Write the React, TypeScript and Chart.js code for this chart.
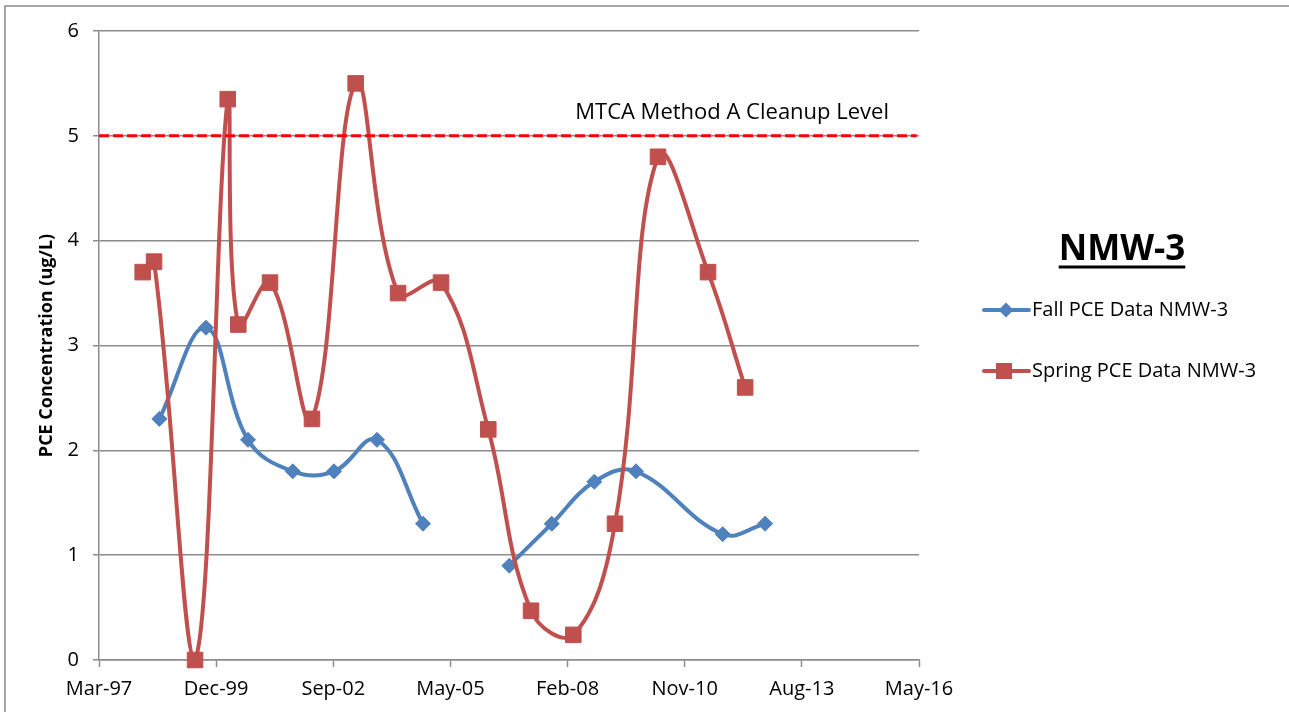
import React, { useEffect, useRef } from 'react';
import { Chart, registerables } from 'chart.js';

Chart.register(...registerables);

// ---- data ----
const xTickLabels = ['Mar-97', 'Dec-99', 'Sep-02', 'May-05', 'Feb-08', 'Nov-10', 'Aug-13', 'May-16'];
const xAxisStart = '1997-03-11';
const xTickStepDays = 1000;
const yMin = 0;
const yMax = 6;

const fallDates = [
  '1998-08-08', '1999-09-10', '2000-09-03', '2001-09-20', '2002-09-07', '2003-09-09', '2004-10-06',
  '2005-09-15', '2006-10-13', '2007-10-10', '2008-10-07', '2009-09-28', '2011-10-08', '2012-10-04',
];
const fallValues: (number | null)[] = [2.3, 3.17, 2.1, 1.8, 1.8, 2.1, 1.3, null, 0.9, 1.3, 1.7, 1.8, 1.2, 1.3];

const springDates = [
  '1998-03-19', '1998-06-24', '1999-06-09', '2000-03-14', '2000-06-12', '2001-03-10', '2002-03-03',
  '2003-03-11', '2004-03-07', '2005-03-09', '2006-04-16', '2007-04-16', '2008-04-11', '2009-04-02',
  '2010-04-04', '2011-06-05', '2012-04-17',
];
const springValues = [3.7, 3.8, 0, 5.35, 3.2, 3.6, 2.3, 5.5, 3.5, 3.6, 2.2, 0.47, 0.24, 1.3, 4.8, 3.7, 2.6];

const cleanupDates = ['1997-03-11', '2016-04-20'];
const cleanupLevel = 5;

const fallLabel = 'Fall PCE Data NMW-3';
const springLabel = 'Spring PCE Data NMW-3';
const cleanupLabel = 'MTCA Method A Cleanup Level';
const legendTitle = 'NMW-3';
const yTitle = 'PCE Concentration (ug/L)';

// ---- helpers ----
const toSerial = (s: string) => {
  const [y, m, d] = s.split('-').map(Number);
  return Math.round((Date.UTC(y, m - 1, d) - Date.UTC(1899, 11, 30)) / 86400000);
};

const FONT = "'Open Sans', sans-serif";
const BLUE = '#4F81BD';
const RED = '#C0504D';
const GRID = '#8c8c8c';

const decorPlugin = {
  id: 'decor',
  beforeDraw(chart: any) {
    const ctx = chart.ctx;
    ctx.save();
    ctx.fillStyle = '#ffffff';
    ctx.fillRect(0, 0, chart.width, chart.height);
    ctx.strokeStyle = '#8a8a8a';
    ctx.lineWidth = 1.5;
    ctx.beginPath();
    ctx.moveTo(5, chart.height);
    ctx.lineTo(5, 6);
    ctx.lineTo(chart.width, 6);
    ctx.stroke();
    ctx.restore();
  },
  afterDraw(chart: any) {
    const ctx = chart.ctx;
    const ys = chart.scales.y;
    const area = chart.chartArea;
    ctx.save();
    // cleanup level label
    ctx.fillStyle = '#000';
    ctx.font = `22px ${FONT}`;
    ctx.textAlign = 'right';
    ctx.textBaseline = 'alphabetic';
    ctx.fillText(cleanupLabel, area.right - 30, ys.getPixelForValue(cleanupLevel) - 17);

    // legend title
    ctx.font = `bold 35px ${FONT}`;
    ctx.textAlign = 'center';
    const tx = 1122;
    const ty = 260;
    ctx.fillText(legendTitle, tx, ty);
    const tw = ctx.measureText(legendTitle).width;
    ctx.fillRect(tx - tw / 2, 265.5, tw, 3);

    // legend entries
    const entries = [
      { label: fallLabel, color: BLUE, style: 'rectRot', r: 7.5, y: 310 },
      { label: springLabel, color: RED, style: 'rect', r: 11, y: 371 },
    ];
    for (const e of entries) {
      ctx.strokeStyle = e.color;
      ctx.lineWidth = 4;
      ctx.lineCap = 'round';
      ctx.beginPath();
      ctx.moveTo(984, e.y);
      ctx.lineTo(1029, e.y);
      ctx.stroke();
      ctx.fillStyle = e.color;
      if (e.style === 'rectRot') {
        ctx.beginPath();
        ctx.moveTo(1006, e.y - e.r);
        ctx.lineTo(1006 + e.r, e.y);
        ctx.lineTo(1006, e.y + e.r);
        ctx.lineTo(1006 - e.r, e.y);
        ctx.closePath();
        ctx.fill();
      } else {
        ctx.fillRect(1004 - 8, e.y - 8, 16, 16);
      }
      ctx.fillStyle = '#000';
      ctx.font = `20px ${FONT}`;
      ctx.textAlign = 'left';
      ctx.textBaseline = 'middle';
      ctx.fillText(e.label, 1032, e.y);
    }
    ctx.restore();
  },
};

export default function App() {
  const ref = useRef<HTMLCanvasElement>(null);

  useEffect(() => {
    if (!ref.current) return;
    const x0 = toSerial(xAxisStart);
    const xEnd = x0 + xTickStepDays * (xTickLabels.length - 1);

    const chart = new Chart(ref.current, {
      type: 'line',
      data: {
        datasets: [
          {
            label: cleanupLabel,
            data: cleanupDates.map((d) => ({ x: toSerial(d), y: cleanupLevel })),
            borderColor: '#FF0000',
            borderWidth: 3,
            borderDash: [10, 4],
            pointRadius: 0,
            tension: 0,
            order: 0,
            clip: false as any,
          },
          {
            label: springLabel,
            data: springDates.map((d, i) => ({ x: toSerial(d), y: springValues[i] })),
            borderColor: RED,
            backgroundColor: RED,
            borderWidth: 4,
            pointStyle: 'rect',
            pointRadius: 11,
            pointBorderWidth: 1,
            pointBorderColor: RED,
            pointBackgroundColor: RED,
            tension: 0.4,
            order: 1,
            clip: false as any,
          },
          {
            label: fallLabel,
            data: fallDates.map((d, i) => ({ x: toSerial(d), y: fallValues[i] })),
            borderColor: BLUE,
            backgroundColor: BLUE,
            borderWidth: 4,
            pointStyle: 'rectRot',
            pointRadius: 7.5,
            pointBorderWidth: 1,
            pointBorderColor: BLUE,
            pointBackgroundColor: BLUE,
            tension: 0.4,
            spanGaps: false,
            order: 2,
            clip: false as any,
          },
        ],
      },
      options: {
        animation: false,
        responsive: true,
        maintainAspectRatio: false,
        layout: { padding: { left: 0, top: 31, right: 370, bottom: 0 } },
        plugins: {
          legend: { display: false },
          tooltip: { enabled: false },
          title: { display: false },
        },
        scales: {
          x: {
            type: 'linear',
            min: x0,
            max: xEnd,
            afterBuildTicks: (s: any) => {
              s.ticks = xTickLabels.map((_, i) => ({ value: x0 + i * xTickStepDays }));
            },
            afterFit: (s: any) => {
              s.height = 52;
            },
            ticks: {
              callback: (_v: any, i: number) => xTickLabels[i],
              color: '#000',
              font: { family: FONT, size: 20 },
              padding: 10,
              maxRotation: 0,
              autoSkip: false,
            },
            grid: {
              drawOnChartArea: false,
              drawTicks: true,
              tickLength: 7,
              tickColor: GRID,
              tickWidth: 1.5,
            },
            border: { display: true, color: GRID, width: 1.5 },
          },
          y: {
            min: yMin,
            max: yMax,
            afterFit: (s: any) => {
              s.width = 99;
            },
            ticks: {
              stepSize: 1,
              color: '#000',
              font: { family: FONT, size: 20 },
              padding: 14,
            },
            grid: {
              color: GRID,
              lineWidth: 1.5,
              drawTicks: true,
              tickLength: 6,
            },
            border: { display: true, color: GRID, width: 1.5 },
            title: {
              display: true,
              text: yTitle,
              color: '#000',
              font: { family: FONT, size: 18, weight: 'bold' },
              padding: { top: 36, bottom: 0 },
            },
          },
        },
      },
      plugins: [decorPlugin],
    });
    return () => chart.destroy();
  }, []);

  return (
    <div style={{ position: 'fixed', left: 0, top: 0, width: 1289, height: 712, background: '#fff' }}>
      <canvas ref={ref} />
    </div>
  );
}
